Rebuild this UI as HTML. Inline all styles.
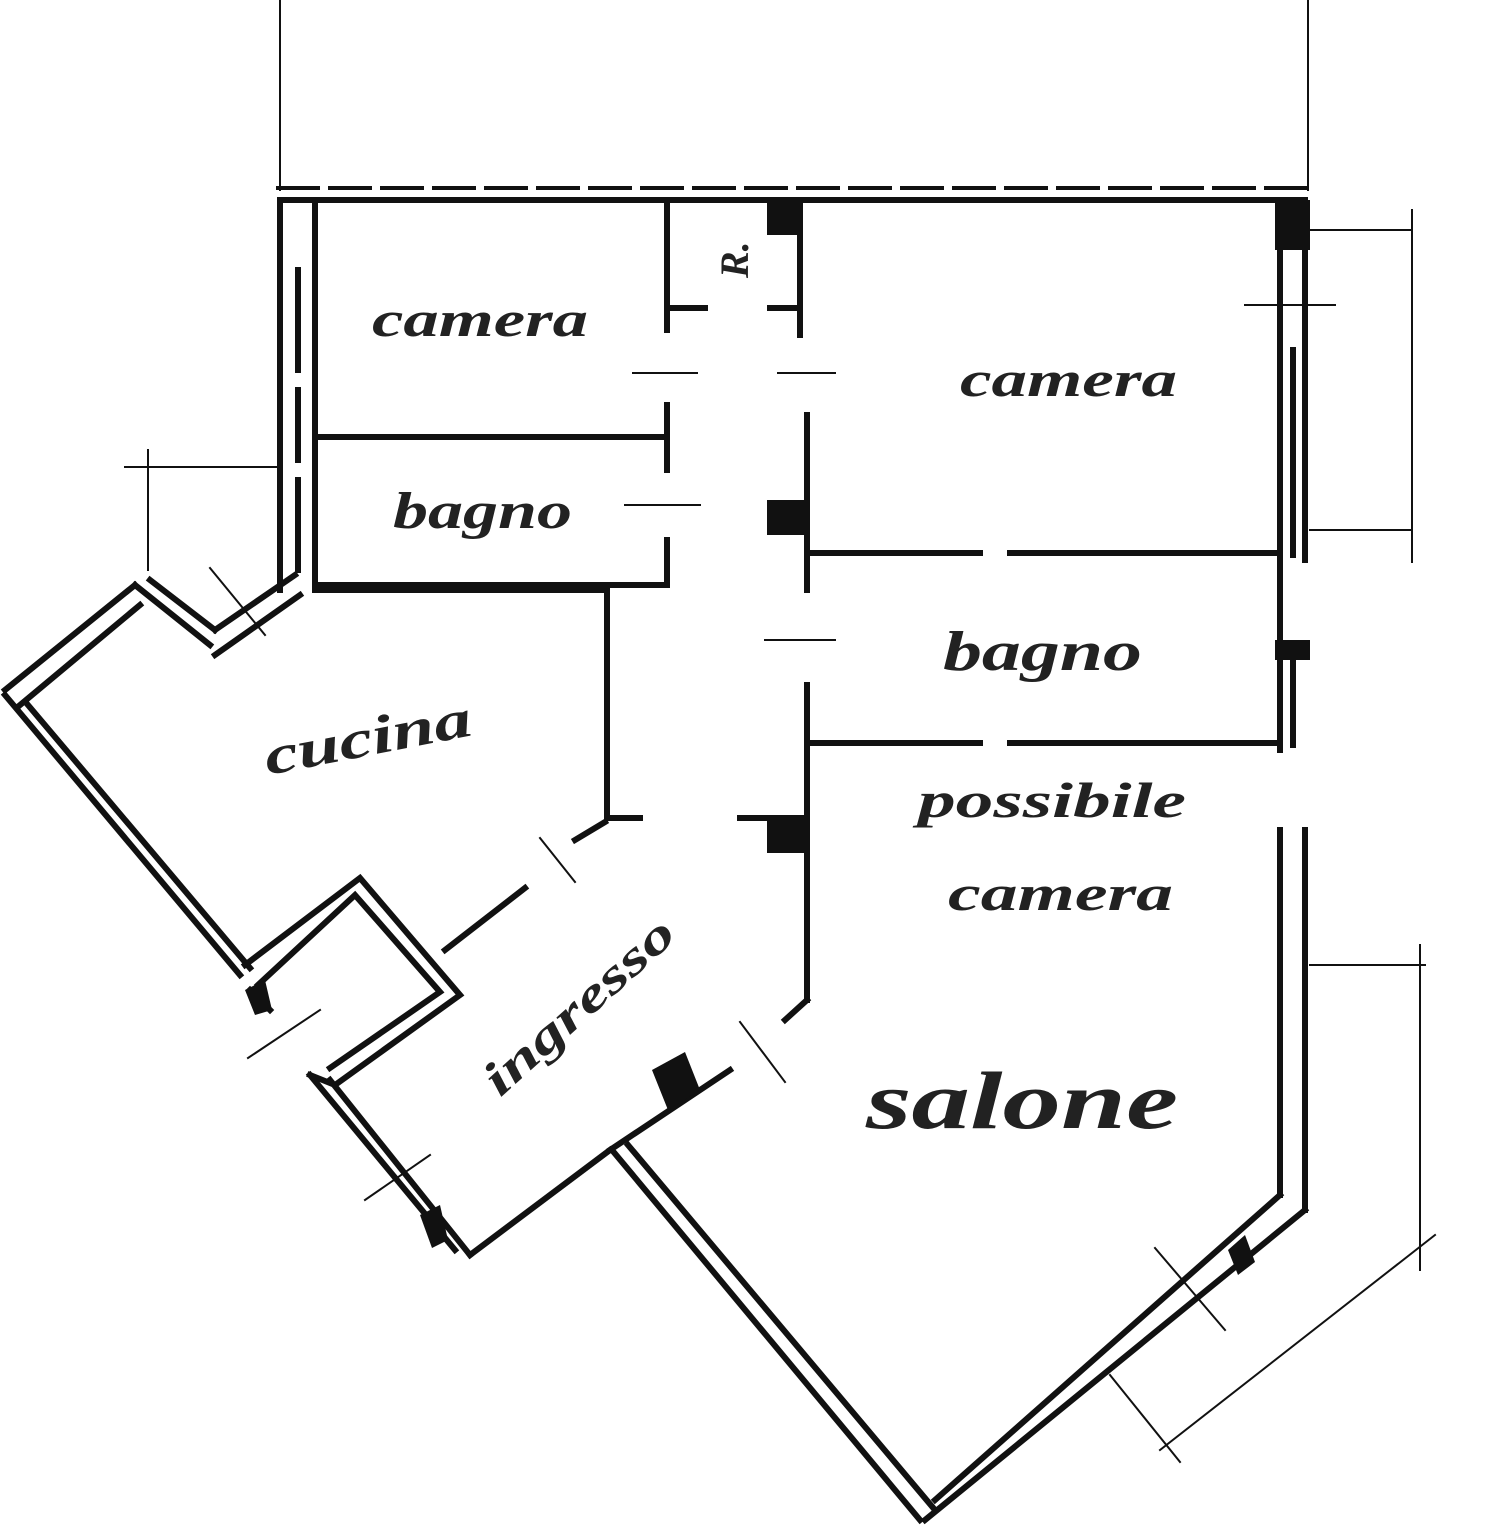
<!DOCTYPE html>
<html><head><meta charset="utf-8"><style>
html,body{margin:0;padding:0;background:#fff;width:1512px;height:1536px;overflow:hidden}
svg{display:block}
text{font-family:"Liberation Serif",serif;font-weight:bold;font-style:italic;fill:#222}
</style></head><body>
<svg width="1512" height="1536" viewBox="0 0 1512 1536" xmlns="http://www.w3.org/2000/svg">
<g stroke="#111" fill="none" stroke-linecap="square">
<g stroke-width="2">
<line x1="280" y1="0" x2="280" y2="190"/>
<line x1="1308" y1="0" x2="1308" y2="190"/>
<line x1="1310" y1="230" x2="1412" y2="230"/>
<line x1="1310" y1="530" x2="1412" y2="530"/>
<line x1="1412" y1="210" x2="1412" y2="562"/>
<line x1="1245" y1="305" x2="1335" y2="305"/>
<line x1="1310" y1="965" x2="1425" y2="965"/>
<line x1="1420" y1="945" x2="1420" y2="1270"/>
<line x1="1160" y1="1450" x2="1435" y2="1235"/>
<line x1="1110" y1="1375" x2="1180" y2="1462"/>
<line x1="125" y1="467" x2="280" y2="467"/>
<line x1="148" y1="450" x2="148" y2="570"/>
<line x1="1155" y1="1248" x2="1225" y2="1330"/>
<line x1="210" y1="568" x2="265" y2="635"/>
<line x1="248" y1="1058" x2="320" y2="1010"/>
<line x1="365" y1="1200" x2="430" y2="1155"/>
<line x1="740" y1="1022" x2="785" y2="1082"/>
<line x1="540" y1="838" x2="575" y2="882"/>
</g>
<line x1="278" y1="188" x2="1310" y2="188" stroke-width="4" stroke-dasharray="40,12"/>
<g stroke-width="6">
<line x1="280" y1="200" x2="1300" y2="200"/>
<line x1="280" y1="200" x2="280" y2="590"/>
<line x1="315" y1="200" x2="315" y2="590"/>
<line x1="298" y1="270" x2="298" y2="370"/>
<line x1="298" y1="390" x2="298" y2="460"/>
<line x1="298" y1="480" x2="298" y2="570"/>
<line x1="1280" y1="200" x2="1280" y2="750"/>
<line x1="1305" y1="200" x2="1305" y2="560"/>
<line x1="1293" y1="350" x2="1293" y2="555"/>
<line x1="1293" y1="650" x2="1293" y2="745"/>
<line x1="1280" y1="830" x2="1280" y2="1195"/>
<line x1="1305" y1="830" x2="1305" y2="1210"/>
<line x1="315" y1="437" x2="667" y2="437"/>
<line x1="315" y1="585" x2="667" y2="585"/>
<line x1="667" y1="200" x2="667" y2="330"/>
<line x1="667" y1="405" x2="667" y2="470"/>
<line x1="667" y1="540" x2="667" y2="583"/>
<line x1="667" y1="308" x2="705" y2="308"/>
<line x1="770" y1="308" x2="800" y2="308"/>
<line x1="800" y1="200" x2="800" y2="335"/>
<line x1="807" y1="415" x2="807" y2="590"/>
<line x1="807" y1="685" x2="807" y2="1000"/>
<line x1="810" y1="553" x2="980" y2="553"/>
<line x1="1010" y1="553" x2="1280" y2="553"/>
<line x1="810" y1="743" x2="980" y2="743"/>
<line x1="1010" y1="743" x2="1280" y2="743"/>
<line x1="807" y1="1000" x2="785" y2="1020"/>
<line x1="740" y1="818" x2="805" y2="818"/>
<line x1="607" y1="590" x2="607" y2="815"/>
<line x1="607" y1="818" x2="640" y2="818"/>
<line x1="605" y1="822" x2="575" y2="840"/>
<line x1="525" y1="888" x2="445" y2="950"/>
<line x1="315" y1="590" x2="607" y2="590"/>
<line x1="5" y1="695" x2="240" y2="975"/>
<line x1="28" y1="705" x2="250" y2="968"/>
<line x1="5" y1="690" x2="135" y2="585"/>
<line x1="20" y1="705" x2="140" y2="605"/>
<line x1="135" y1="585" x2="210" y2="645"/>
<line x1="150" y1="580" x2="215" y2="630"/>
<line x1="215" y1="630" x2="295" y2="575"/>
<line x1="215" y1="655" x2="300" y2="595"/>
<path d="M245 965 L360 878 L460 995 L335 1085 L310 1075"/>
<path d="M258 985 L355 895 L440 992 L330 1068"/>
<line x1="250" y1="990" x2="270" y2="1010"/>
<path d="M310 1075 L455 1250"/>
<path d="M330 1080 L470 1255"/>
<line x1="470" y1="1255" x2="610" y2="1150"/>
<line x1="610" y1="1150" x2="730" y2="1070"/>
<line x1="612" y1="1150" x2="920" y2="1520"/>
<line x1="628" y1="1145" x2="935" y2="1510"/>
<line x1="925" y1="1520" x2="1305" y2="1210"/>
<line x1="935" y1="1500" x2="1280" y2="1195"/>
</g>
<g fill="#111" stroke="none">
<rect x="767" y="200" width="35" height="35"/>
<rect x="767" y="500" width="40" height="35"/>
<rect x="767" y="818" width="40" height="35"/>
<polygon points="652,1070 685,1052 700,1090 668,1110"/>
<rect x="1275" y="200" width="35" height="50"/>
<rect x="1275" y="640" width="35" height="20"/>
<polygon points="1228,1250 1245,1235 1255,1262 1238,1275"/>
<polygon points="420,1215 440,1205 448,1240 432,1248"/>
<polygon points="245,990 265,980 272,1010 255,1015"/>
</g>
<g stroke-width="2">
<line x1="633" y1="373" x2="697" y2="373"/>
<line x1="778" y1="373" x2="835" y2="373"/>
<line x1="625" y1="505" x2="700" y2="505"/>
<line x1="765" y1="640" x2="835" y2="640"/>
</g>
</g>
<text x="372" y="336" font-size="50" textLength="216" lengthAdjust="spacingAndGlyphs">camera</text>
<text x="960" y="396" font-size="50" textLength="217" lengthAdjust="spacingAndGlyphs">camera</text>
<text x="393" y="528" font-size="52" textLength="179" lengthAdjust="spacingAndGlyphs">bagno</text>
<text x="943" y="670" font-size="56" textLength="199" lengthAdjust="spacingAndGlyphs">bagno</text>
<text x="918" y="817" font-size="50" textLength="268" lengthAdjust="spacingAndGlyphs">possibile</text>
<text x="948" y="910" font-size="50" textLength="225" lengthAdjust="spacingAndGlyphs">camera</text>
<text x="866" y="1128" font-size="82" textLength="312" lengthAdjust="spacingAndGlyphs">salone</text>
<text x="0" y="0" font-size="54" textLength="210" lengthAdjust="spacingAndGlyphs" transform="translate(268,775) rotate(-11)">cucina</text>
<text x="0" y="0" font-size="48" textLength="240" lengthAdjust="spacingAndGlyphs" transform="translate(500,1098) rotate(-42)">ingresso</text>
<text x="0" y="0" font-size="40" font-style="normal" transform="translate(748,278) rotate(-90)">R.</text>
</svg>
</body></html>
